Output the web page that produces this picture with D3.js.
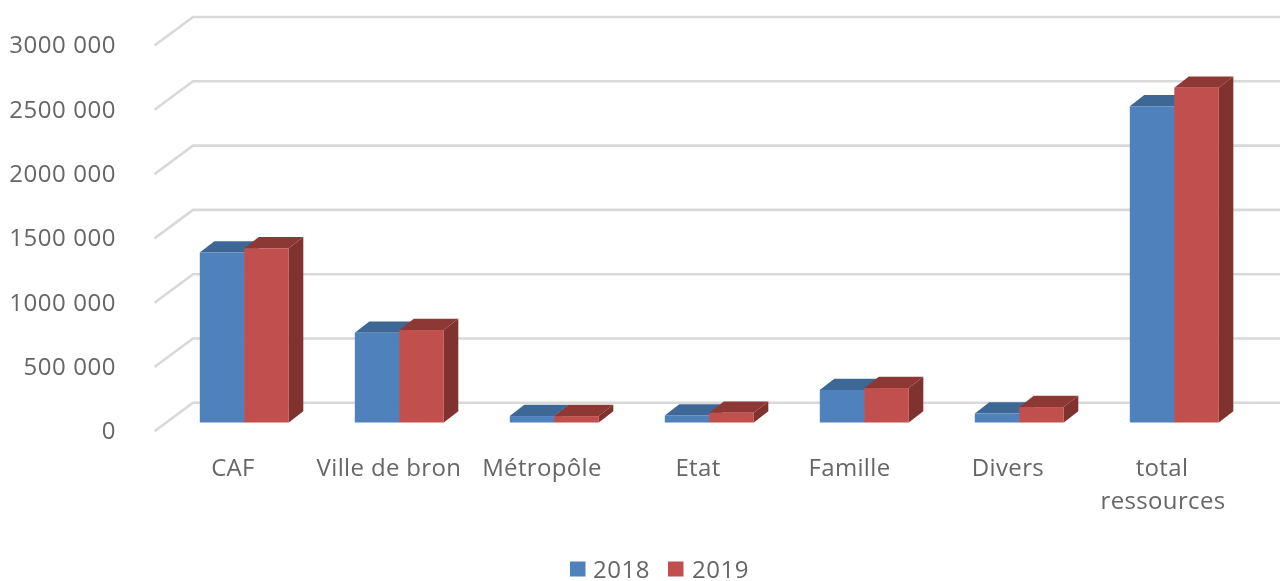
<!DOCTYPE html>
<html><head><meta charset="utf-8">
<script src="https://cdn.jsdelivr.net/npm/d3@7/dist/d3.min.js"></script>
<style>html,body{margin:0;padding:0;background:#fff;overflow:hidden}svg{display:block}
text{font-family:"Open Sans",sans-serif;fill:#666}</style></head><body>
<svg id="c" width="1282" height="581"></svg>
<script>
const categories = ["CAF","Ville de bron","Métropôle","Etat","Famille","Divers","total ressources"];
const values2018 = [1322000,698000,50000,55000,253000,70000,2459000];
const values2019 = [1355000,719000,50000,76000,268000,120000,2603000];
const yTicks = [0,500000,1000000,1500000,2000000,2500000,3000000];
const tickLabels = ["0","500 000","1000 000","1500 000","2000 000","2500 000","3000 000"];
const seriesNames = ["2018","2019"];
const labelNudge = [0,1,-1,0,-3.5,0,0];

const svg=d3.select("#c");
const defs=svg.append("defs");
defs.append("filter").attr("id","soft").attr("x","-5%").attr("y","-5%").attr("width","110%").attr("height","110%")
  .append("feGaussianBlur").attr("stdDeviation",0.7);
const g=svg.append("g").attr("filter","url(#soft)");

const y=d3.scaleLinear().domain([0,3000000]).range([422.5,36.7]);
const x0=d3.scaleBand().domain(categories).range([166.8,1251.8]).paddingInner(0.4258).paddingOuter(0.2129);
const x1=d3.scaleBand().domain(seriesNames).range([0,x0.bandwidth()]);
const dx=14.5, dy=-11.3;
const backY=-19.7;

const grid=g.append("g");
yTicks.forEach(t=>{
  const yb=y(t)+backY;
  grid.append("path").attr("d",`M154.5,${yb+28.5}L193,${yb}L1280,${yb}`)
    .attr("fill","none").attr("stroke","#d9d9d9").attr("stroke-width",2.6);
});

g.append("g").selectAll("text").data(yTicks).join("text")
  .attr("x",116).attr("y",t=>y(t)+6.7+10).attr("text-anchor","end")
  .style("font-size","24px").style("letter-spacing","0.55px").text((t,i)=>tickLabels[i]);

const series=[
 {name:seriesNames[0],vals:values2018,front:"#4f81bd",top:"#3d6796",side:"#345a86"},
 {name:seriesNames[1],vals:values2019,front:"#c0504d",top:"#8e3835",side:"#7f302e"}
];
series.forEach(s=>{
  const b=g.append("g");
  categories.forEach((c,i)=>{
    const xl=x0(c)+x1(s.name), w=x1.bandwidth(), yt=y(s.vals[i]), yb=y(0);
    b.append("path").attr("fill",s.side)
      .attr("d",`M${xl+w},${yt}L${xl+w+dx},${yt+dy}L${xl+w+dx},${yb+dy}L${xl+w},${yb}Z`);
    b.append("path").attr("fill",s.top)
      .attr("d",`M${xl},${yt}L${xl+dx},${yt+dy}L${xl+w+dx},${yt+dy}L${xl+w},${yt}Z`);
    b.append("rect").attr("x",xl).attr("y",yt).attr("width",w).attr("height",yb-yt).attr("fill",s.front);
  });
});

const lab=g.append("g");
categories.forEach((c,i)=>{
  const cx=x0(c)+x0.bandwidth()/2-11.3+labelNudge[i];
  const add=(t,yy,ox)=>lab.append("text").attr("x",cx+ox).attr("y",yy).attr("text-anchor","middle")
    .style("font-size","24px").style("letter-spacing","0.35px").text(t);
  if(c==="total ressources"){ add("total",476,-1); add("ressources",509,0); }
  else add(c,476,0);
});

const lg=g.append("g");
[[570,593],[668,692]].forEach((p,i)=>{
  lg.append("rect").attr("x",p[0]).attr("y",561.5).attr("width",15.5).attr("height",15).attr("fill",series[i].front);
  lg.append("text").attr("x",p[1]).attr("y",577.5).style("font-size","24px").style("letter-spacing","0.5px").text(series[i].name);
});
</script></body></html>
